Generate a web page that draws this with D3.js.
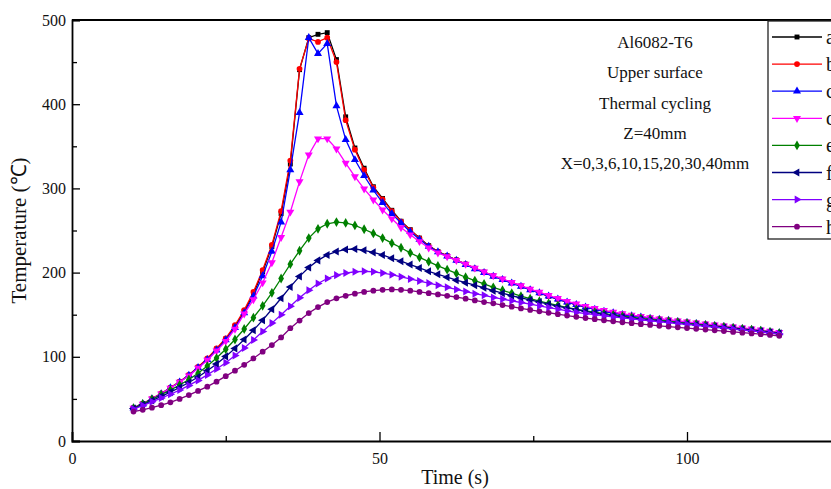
<!DOCTYPE html>
<html>
<head>
<meta charset="utf-8">
<script src="https://cdn.jsdelivr.net/npm/d3@7"></script>
<style>
  html, body { margin: 0; padding: 0; background: #fff; overflow: hidden; }
  svg { display: block; font-family: "Liberation Serif", "Times New Roman", serif; }
</style>
</head>
<body>
<svg id="chart" width="831" height="489"></svg>
<script>
// ---------------- data ----------------
const time = [10, 11.5, 13, 14.5, 16, 17.5, 19, 20.5, 22, 23.5, 25, 26.5, 28, 29.5, 31, 32.5, 34, 35.5, 37, 38.5,
  40, 41.5, 43, 44.5, 46, 47.5, 49, 50.5, 52, 53.5, 55, 56.5, 58, 59.5, 61, 62.5, 64, 65.5, 67, 68.5,
  70, 71.5, 73, 74.5, 76, 77.5, 79, 80.5, 82, 83.5, 85, 86.5, 88, 89.5, 91, 92.5, 94, 95.5, 97, 98.5,
  100, 101.5, 103, 104.5, 106, 107.5, 109, 110.5, 112, 113.5, 115];

const seriesA = [39, 44, 50, 56, 63, 70, 78, 87.5, 97, 109,
  121, 136, 154, 175, 201, 231, 270, 329, 441, 479,
  483, 485, 453, 385, 348, 324, 302, 288, 274, 261,
  251, 241, 232, 225, 220, 215, 210, 205, 200.5, 196,
  192, 188, 184, 180, 176, 172, 168.5, 165, 162, 159,
  156.5, 154.3, 152.3, 150.5, 148.8, 147.3, 145.9, 144.6, 143.4, 142.2,
  141, 139.8, 138.6, 137.4, 136.2, 135, 133.8, 132.6, 131.3, 130, 128.5];

const seriesB = [39.5, 44.5, 50.5, 56.5, 63.5, 70.5, 78.5, 88, 98, 110,
  122, 137.5, 155.5, 177, 203, 233, 273, 333, 442, 478,
  474, 479, 450, 381, 346, 322, 301, 287, 273, 260.5,
  250.5, 240.5, 231.5, 225, 220, 215, 210, 205, 200.5, 196,
  192, 188, 184, 180, 176, 172, 168.5, 165, 162, 159,
  156.6, 154.4, 152.4, 150.6, 148.9, 147.4, 146, 144.7, 143.5, 142.3,
  141.1, 139.9, 138.7, 137.5, 136.3, 135.1, 133.9, 132.7, 131.4, 130.1, 128.6];

const seriesC = [39, 44, 50, 56, 63, 70, 78, 87, 96.5, 108,
  120, 134.5, 152, 172, 196, 225, 260, 322, 390, 479,
  460, 472, 398, 358, 334, 315, 298, 283, 270, 259,
  248.5, 239.5, 231, 224.5, 219.5, 214.5, 209.5, 204.5, 200, 195.5,
  191.5, 187.5, 183.5, 179.5, 175.8, 172, 168.5, 165, 162, 159,
  156.3, 154, 152, 150.2, 148.5, 147, 145.6, 144.3, 143.1, 141.9,
  140.7, 139.5, 138.3, 137.1, 135.9, 134.7, 133.5, 132.3, 131, 129.7, 128.3];

const seriesD = [39, 44, 50, 56, 63, 70, 77.5, 86.5, 96, 107,
  118.5, 133, 151, 168, 188, 212, 242, 272, 308, 340,
  359, 359, 347, 330, 314, 299.5, 286.5, 274.5, 264, 253.5,
  245, 237, 229.5, 223.5, 219, 214.5, 210, 205.5, 201, 196.5,
  192.5, 188.5, 184.5, 180.5, 176.8, 173, 169.5, 166, 163, 160,
  157.5, 155.2, 153.2, 151.3, 149.6, 148, 146.5, 145.2, 144, 142.8,
  141.6, 140.4, 139.2, 138, 136.8, 135.6, 134.4, 133.2, 131.9, 130.6, 129.2];

const seriesE = [39, 44, 49.5, 55, 60.5, 66.5, 73, 80.5, 89, 98.5,
  109, 120.5, 133, 146.5, 160.5, 176, 193, 210, 226, 241,
  252, 258, 260, 259, 256, 251.5, 246.5, 241, 235, 229.5,
  223.5, 218, 213, 208, 203.5, 199, 194.5, 190.5, 186.5, 182.5,
  179, 175.5, 172, 169, 166, 163.5, 161, 158.5, 156.5, 154.5,
  153, 151.3, 149.8, 148.3, 147, 145.7, 144.5, 143.3, 142.2, 141,
  139.8, 138.7, 137.6, 136.5, 135.4, 134.3, 133.2, 132.1, 130.9, 129.6, 128.2];

const seriesF = [38.5, 43, 48, 53, 58, 63.5, 69.5, 76, 83.5, 91.5,
  100.5, 110, 120.5, 131.5, 143.5, 156.5, 169.5, 183, 195.5, 206,
  214.5, 221, 225, 227.5, 228, 226.5, 224, 221, 217, 213.5,
  209.5, 205.5, 201.5, 198, 194.5, 191, 188, 185, 182, 178.5,
  175.5, 172.5, 170, 167.5, 165, 162.5, 160, 158, 156, 154,
  152, 150.3, 148.8, 147.3, 146, 144.7, 143.5, 142.3, 141.2, 140,
  139, 138, 136.9, 135.8, 134.7, 133.6, 132.5, 131.4, 130.3, 129.1, 127.8];

const seriesG = [38, 42, 46.5, 51, 55.5, 60.5, 66, 72, 78.5, 85.5,
  93, 101.5, 110.5, 120, 130, 140, 150, 160, 170, 179,
  187, 193, 197, 199.5, 201, 201.5, 201, 199.5, 197.5, 195,
  192.5, 190, 187.5, 185, 182.5, 180, 177.5, 175, 173, 170.5,
  168.5, 166.5, 164.5, 162.5, 160.5, 158.5, 156.5, 154.5, 152.8, 151.3,
  150, 148.7, 147.4, 146.2, 145, 143.9, 142.8, 141.7, 140.6, 139.5,
  138.5, 137.3, 136.2, 135.1, 134, 132.9, 131.8, 130.7, 129.6, 128.4, 127.2];

const seriesH = [35, 37, 39.5, 42.5, 46, 50, 54.5, 59.5, 64.5, 70.5,
  77, 83.5, 90.5, 98, 106, 114, 123, 134, 143, 152,
  159, 165, 169.5, 172.5, 175, 177, 178.5, 179.5, 180, 179.5,
  178.5, 177, 175.5, 174, 172.5, 171, 169, 167, 165, 163.5,
  161.5, 159.5, 157.5, 155.7, 154, 152.3, 150.6, 149, 147.5, 146,
  144.7, 143.4, 142.2, 141, 139.9, 138.8, 137.8, 136.8, 135.9, 135,
  134.1, 133.2, 132.3, 131.4, 130.5, 129.6, 128.7, 127.8, 126.9, 125.9, 125];

const seriesNames = ["a", "b", "c", "d", "e", "f", "g", "h"];
const seriesValues = [seriesA, seriesB, seriesC, seriesD, seriesE, seriesF, seriesG, seriesH];
const xTickValues = [0, 50, 100];
const xMinorTicks = [25, 75, 125];
const yTickValues = [0, 100, 200, 300, 400, 500];
const yMinorTicks = [50, 150, 250, 350, 450];
const notes = ["Al6082-T6", "Upper surface", "Thermal cycling", "Z=40mm", "X=0,3,6,10,15,20,30,40mm"];

// ---------------- styles ----------------
const colors = ["#000000", "#ff0000", "#0000ff", "#ff00ff", "#008000", "#000080", "#8000ff", "#800080"];
const shapes = [
  { t: d3.symbolSquare, s: 24, r: 0 },
  { t: d3.symbolCircle, s: 26, r: 0 },
  { t: d3.symbolTriangle, s: 28, r: 0 },
  { t: d3.symbolTriangle, s: 28, r: 180 },
  { t: d3.symbolDiamond, s: 28, r: 0 },
  { t: d3.symbolTriangle, s: 28, r: -90 },
  { t: d3.symbolTriangle, s: 28, r: 90 },
  { t: d3.symbolCircle, s: 26, r: 0 }
];

const svg = d3.select("#chart");
const x = d3.scaleLinear().domain([0, 125]).range([72, 72 + 6.15 * 125]);
const y = d3.scaleLinear().domain([0, 500]).range([441, 20]);

// axes
const axisFont = "16px";
svg.append("g").attr("transform", `translate(0,${y(0)})`)
  .call(d3.axisBottom(x).tickValues(xTickValues).tickSize(-9).tickPadding(12).tickFormat(d3.format("d")));
svg.append("g").attr("transform", `translate(0,${y(0)})`)
  .call(d3.axisBottom(x).tickValues(xMinorTicks).tickSize(-5).tickFormat(""))
  .call(g => g.select(".domain").remove());

svg.append("g").attr("transform", `translate(${x(0)},0)`)
  .call(d3.axisLeft(y).tickValues(yTickValues).tickSize(-8).tickPadding(6).tickFormat(d3.format("d")));
svg.append("g").attr("transform", `translate(${x(0)},0)`)
  .call(d3.axisLeft(y).tickValues(yMinorTicks).tickSize(-5).tickFormat(""))
  .call(g => g.select(".domain").remove());

svg.selectAll(".domain").attr("stroke", "#000").attr("stroke-width", 1.8);
svg.selectAll(".tick line").attr("stroke", "#000").attr("stroke-width", 1.3);
svg.selectAll(".tick text").attr("font-size", axisFont).attr("fill", "#111")
  .attr("font-family", '"Liberation Serif", serif');

// top frame line
svg.append("line").attr("x1", x(0)).attr("x2", 831).attr("y1", y(500)).attr("y2", y(500))
  .attr("stroke", "#000").attr("stroke-width", 1.8);

// axis titles
svg.append("text").attr("x", 455).attr("y", 484).attr("text-anchor", "middle")
  .attr("font-size", "20px").attr("fill", "#111").text("Time (s)");
svg.append("text").attr("transform", `translate(26,${y(250)}) rotate(-90)`).attr("text-anchor", "middle")
  .attr("font-size", "21px").attr("fill", "#111").text("Temperature (℃)");

// series
const line = d3.line().x((d, i) => x(time[i])).y(d => y(d));
seriesValues.forEach((vals, k) => {
  const g = svg.append("g");
  g.append("path").datum(vals).attr("d", line).attr("fill", "none")
    .attr("stroke", colors[k]).attr("stroke-width", 1.3);
  const sym = d3.symbol().type(shapes[k].t).size(shapes[k].s);
  g.selectAll("path.m").data(vals).join("path").attr("class", "m")
    .attr("d", sym)
    .attr("transform", (d, i) => `translate(${x(time[i])},${y(d)}) rotate(${shapes[k].r})`)
    .attr("fill", colors[k]);
});

// annotations
notes.forEach((t, i) => {
  svg.append("text").attr("x", 655).attr("y", 48 + i * 30.3).attr("text-anchor", "middle")
    .attr("font-size", "17px").attr("fill", "#111").text(t);
});

// legend
const lg = svg.append("g");
lg.append("rect").attr("x", 768).attr("y", 21).attr("width", 80).attr("height", 218)
  .attr("fill", "#fff").attr("stroke", "#222").attr("stroke-width", 1.3);
seriesNames.forEach((n, k) => {
  const yy = 37 + k * 27.1;
  lg.append("line").attr("x1", 772).attr("x2", 822).attr("y1", yy).attr("y2", yy)
    .attr("stroke", colors[k]).attr("stroke-width", 1.3);
  lg.append("path").attr("d", d3.symbol().type(shapes[k].t).size(shapes[k].s)())
    .attr("transform", `translate(797,${yy}) rotate(${shapes[k].r})`).attr("fill", colors[k]);
  lg.append("text").attr("x", 826).attr("y", yy + 7).attr("font-size", "20px").attr("fill", "#111").text(n);
});
</script>
</body>
</html>
